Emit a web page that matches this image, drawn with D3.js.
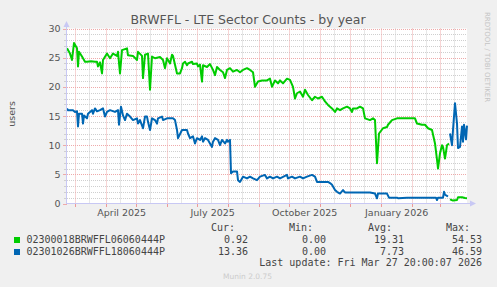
<!DOCTYPE html>
<html><head><meta charset="utf-8">
<script src="https://cdn.jsdelivr.net/npm/d3@7"></script>
<style>body{margin:0;background:#f0f0f0}svg{display:block}</style>
</head><body>
<svg id="c" width="497" height="287"></svg>
<script>
const title = "BRWFFL - LTE Sector Counts - by year";
const yLabel = "users";
const seriesNames = ["02300018BRWFFL06060444P", "02301026BRWFFL18060444P"];
const seriesColors = ["#00cc00", "#0066b3"];
const startDate = new Date(2025, 1, 20, 20, 0, 7);
const endDate = new Date(2026, 2, 27, 20, 0, 7);
const yTicks = [0, 5, 10, 15, 20, 25, 30];
const xLabelDates = ["2025-04-16", "2025-07-16", "2025-10-16", "2026-01-16"];

// day offsets from startDate and values (null = unknown)
const greenDays = [0,3,5,7,10,11,12,15,18,20,24,28,30,31,33,35,36,40,43,46,50,51,53,55,60,61,66,70,71,75,76,78,81,83,85,88,93,96,98,100,103,105,106,110,113,115,116,118,120,121,125,126,130,131,133,135,136,140,143,146,148,150,153,156,158,160,163,166,170,173,176,180,183,186,188,191,195,200,203,205,208,211,213,216,220,223,226,228,230,233,236,238,241,245,248,251,255,258,261,265,268,270,273,276,280,283,285,286,290,293,296,298,303,306,308,310,312,316,320,321,325,330,335,340,346,348,350,355,358,361,365,368,370,371,373,375,376,378,380,382,382.5,383,386,390,391,395,398,400];
const greenValues = [26.6,25.7,24.6,27.5,26.6,23.5,26.0,25.2,24.3,24.3,24.4,24.3,24.3,23.5,24.2,22.3,24.6,25.7,24.9,25.7,25.3,26.0,22.3,26.3,26.6,25.4,25.3,24.6,26.0,25.3,21.5,25.5,25.7,19.5,25.2,24.9,25.1,24.6,23.2,24.9,24.0,25.5,25.3,22.3,22.3,23.2,24.0,24.3,23.7,24.0,24.3,23.9,24.0,23.5,23.8,20.9,23.7,23.4,23.9,22.9,22.0,23.4,22.9,22.5,21.5,22.9,23.2,22.6,22.9,22.5,22.9,23.2,22.9,22.5,20.0,20.9,21.1,21.1,21.4,20.0,21.1,20.6,21.1,20.6,21.4,21.2,20.0,18.0,18.9,19.2,18.3,19.5,18.6,17.7,18.3,18.0,18.3,17.5,16.9,16.3,15.7,16.3,16.0,16.3,16.6,16.3,15.7,16.3,16.3,16.6,16.3,14.6,14.3,14.6,14.3,6.9,12.0,12.9,13.1,13.5,14.3,14.6,14.6,14.6,14.6,14.6,13.7,13.5,13.5,12.9,12.6,10.3,7.5,6.0,8.6,10.0,9.7,7.7,10.0,10.3,null,0.7,0.5,0.6,1.06,1.06,0.94,0.92];

const blueDays = [0,1,6,8,10,11,12,15,16,17,20,21,25,26,28,30,33,36,38,40,43,48,51,52,54,56,58,60,63,66,70,71,73,76,78,80,81,83,85,88,90,91,95,96,100,103,106,108,110,111,115,120,121,123,126,128,130,133,135,136,138,141,145,146,148,151,153,155,158,160,161,163,164,166,170,171,173,176,180,183,186,190,193,198,200,203,206,210,213,220,221,225,228,233,236,240,245,248,250,253,258,261,263,265,266,268,270,273,276,278,283,290,296,303,308,310,311,320,322,330,331,340,350,369,370,371,376,377,378,380,381,382.5,383,385,386,388,390,391,393,395,396,397,399,400];
const blueValues = [16.3,16.0,16.0,15.7,15.8,13.2,15.4,15.4,13.7,15.1,14.6,15.4,16.0,15.4,16.3,15.8,16.0,16.3,14.9,15.7,16.0,15.7,16.0,13.5,16.6,15.1,14.3,15.4,14.9,14.3,14.6,13.7,14.3,12.9,14.9,14.9,14.0,12.6,14.6,14.3,13.7,14.6,14.9,14.3,14.6,14.6,14.6,14.3,12.6,11.2,12.6,12.6,12.0,11.2,11.5,10.3,11.2,10.9,11.5,10.6,11.2,10.9,9.7,10.6,11.2,10.9,10.0,10.9,10.3,10.9,10.6,10.9,5.2,5.5,5.5,4.0,3.7,4.6,4.3,4.6,4.3,4.0,4.6,4.9,4.3,4.6,4.3,4.6,4.3,4.9,4.3,4.6,4.3,4.6,4.3,4.6,4.9,4.6,3.7,3.7,3.7,3.7,3.5,3.2,2.9,2.3,2.0,1.7,2.3,1.9,1.9,1.9,1.9,1.9,1.7,0.9,1.7,1.7,1.0,1.0,0.9,1.0,1.0,1.0,0.6,1.0,1.0,2.0,1.5,1.3,1.2,null,12.0,10.0,12.6,17.2,13.7,9.5,9.7,13.2,10.6,13.5,11.0,13.36];

const curValues = ["0.92", "13.36"];
const minValues = ["0.00", "0.00"];
const avgValues = ["19.31", "7.73"];
const maxValues = ["54.53", "46.59"];
const lastUpdate = "Last update: Fri Mar 27 20:00:07 2026";
const footer = "Munin 2.0.75";
const sideText = "RRDTOOL / TOBI OETIKER";

const svg = d3.select("#c");
const W = 497, H = 287;
svg.append("rect").attr("width", W).attr("height", H).attr("fill", "#f0f0f0");

const x = d3.scaleTime().domain([startDate, endDate]).range([67, 467]);
const y = d3.scaleLinear().domain([0, 30]).range([203.5, 28.5]);
const dayToDate = d => new Date(startDate.getTime() + d * 86400000);

// canvas
svg.append("rect").attr("x", 67).attr("y", 28.5).attr("width", 400).attr("height", 175).attr("fill", "#ffffff");

const grid = svg.append("g");
// minor horizontal grid
d3.range(0, 31).filter(v => v % 5 !== 0).forEach(v => {
  grid.append("line").attr("x1", 67).attr("x2", 467).attr("y1", Math.round(y(v)) + 0.5).attr("y2", Math.round(y(v)) + 0.5)
    .attr("stroke", "#cfcfcf").attr("stroke-dasharray", "1,1");
  grid.append("line").attr("x1", 64).attr("x2", 67).attr("y1", Math.round(y(v)) + 0.5).attr("y2", Math.round(y(v)) + 0.5)
    .attr("stroke", "#cfcfcf");
});
// minor vertical grid (mid month)
const midMonths = d3.timeMonth.range(d3.timeMonth.floor(startDate), endDate).map(m => new Date(m.getFullYear(), m.getMonth(), 15)).filter(d => d > startDate && d < endDate);
midMonths.forEach(d => {
  const xx = Math.round(x(d)) + 0.5;
  grid.append("line").attr("x1", xx).attr("x2", xx).attr("y1", 28.5).attr("y2", 203.5)
    .attr("stroke", "#cfcfcf").attr("stroke-dasharray", "1,1");
});
// major horizontal grid
yTicks.filter(v => v > 0).forEach(v => {
  grid.append("line").attr("x1", 67).attr("x2", 467).attr("y1", Math.round(y(v)) + 0.5).attr("y2", Math.round(y(v)) + 0.5)
    .attr("stroke", "#eeaaaa").attr("stroke-dasharray", "1,1");
});
yTicks.forEach(v => {
  grid.append("line").attr("x1", 63).attr("x2", 67).attr("y1", Math.round(y(v)) + 0.5).attr("y2", Math.round(y(v)) + 0.5)
    .attr("stroke", "#eeaaaa");
});
// major vertical grid (months)
const months = d3.timeMonth.range(startDate, endDate);
months.forEach(d => {
  const xx = Math.round(x(d)) + 0.5;
  grid.append("line").attr("x1", xx).attr("x2", xx).attr("y1", 28.5).attr("y2", 203.5)
    .attr("stroke", "#eeaaaa").attr("stroke-dasharray", "1,1");
  grid.append("line").attr("x1", xx).attr("x2", xx).attr("y1", 203.5).attr("y2", 207)
    .attr("stroke", "#ee9999");
});

// series
const series = [
  {days: greenDays, values: greenValues},
  {days: blueDays, values: blueValues}
];
const line = d3.line().defined(d => d.v != null).x(d => x(d.t)).y(d => y(d.v));
series.forEach((s, i) => {
  const pts = s.days.map((d, k) => ({t: dayToDate(d), v: s.values[k]}));
  svg.append("path").datum(pts).attr("d", line).attr("fill", "none")
    .attr("stroke", seriesColors[i]).attr("stroke-width", 2).attr("stroke-linejoin", "round");
});

// axes lines + arrows
const axisColor = "#c8c8f4";
svg.append("line").attr("x1", 66.5).attr("x2", 66.5).attr("y1", 24).attr("y2", 204).attr("stroke", axisColor);
svg.append("line").attr("x1", 66).attr("x2", 472).attr("y1", 203.5).attr("y2", 203.5).attr("stroke", axisColor);
svg.append("path").attr("d", "M63.5,27 L69.5,27 L66.5,21 Z").attr("fill", axisColor);
svg.append("path").attr("d", "M470,200.5 L470,206.5 L476,203.5 Z").attr("fill", axisColor);

// axis labels via d3 axes
const font = "DejaVu Sans, sans-serif";
const yAxis = svg.append("g").attr("transform", "translate(66.5,0)")
  .call(d3.axisLeft(y).tickValues(yTicks).tickSize(0).tickPadding(6));
yAxis.select(".domain").remove();
yAxis.selectAll("text").attr("font-family", font).attr("font-size", 9.5).attr("fill", "#555");

const xAxis = svg.append("g").attr("transform", "translate(0,203.5)")
  .call(d3.axisBottom(x).tickValues(xLabelDates.map(s => new Date(s + "T00:00:00"))).tickSize(0).tickPadding(5.5)
    .tickFormat(d3.timeFormat("%B %Y")));
xAxis.select(".domain").remove();
xAxis.selectAll("text").attr("font-family", font).attr("font-size", 9.5).attr("fill", "#555");

// title
svg.append("text").attr("x", 248).attr("y", 24).attr("text-anchor", "middle")
  .attr("font-family", font).attr("font-size", 12.5).attr("fill", "#555").text(title);

// y label
svg.append("text").attr("transform", "translate(14.5,114) rotate(-90)").attr("text-anchor", "middle")
  .attr("font-family", font).attr("font-size", 9.5).attr("fill", "#555").text(yLabel);

// side text
svg.append("text").attr("transform", "translate(485,57) rotate(90)").attr("text-anchor", "middle")
  .attr("font-family", font).attr("font-size", 7).attr("fill", "#c4c4c4").text(sideText);

// legend
const mono = "DejaVu Sans Mono, monospace";
const lg = svg.append("g").attr("font-family", mono).attr("font-size", 10).attr("fill", "#444");
const headers = ["Cur:", "Min:", "Avg:", "Max:"];
const headerX = [235, 313, 392, 470];
const valueX = [248, 326, 404, 482];
headers.forEach((h, i) => lg.append("text").attr("x", headerX[i]).attr("y", 231).attr("text-anchor", "end").text(h));
const rowsY = [243, 255];
seriesNames.forEach((n, i) => {
  lg.append("rect").attr("x", 14).attr("y", rowsY[i] - 6).attr("width", 6).attr("height", 6).attr("fill", seriesColors[i]);
  lg.append("text").attr("x", 26.5).attr("y", rowsY[i]).text(n);
  [curValues, minValues, avgValues, maxValues].forEach((arr, j) => {
    lg.append("text").attr("x", valueX[j]).attr("y", rowsY[i]).attr("text-anchor", "end").text(arr[i]);
  });
});
lg.append("text").attr("x", 482).attr("y", 266).attr("text-anchor", "end").text(lastUpdate);

svg.append("text").attr("x", 247.5).attr("y", 279).attr("text-anchor", "middle")
  .attr("font-family", font).attr("font-size", 7.5).attr("fill", "#cccccc").text(footer);
</script>
</body></html>
